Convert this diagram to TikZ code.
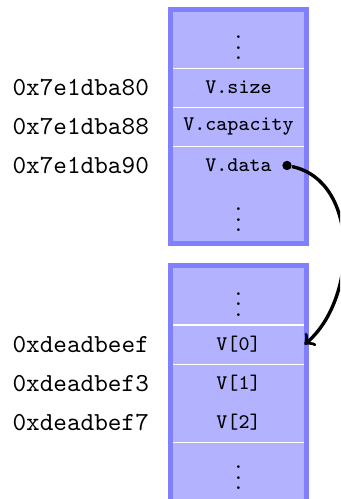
\documentclass[tikz,border=0pt]{standalone}
\usepackage{tikz}
\usetikzlibrary{arrows,calc}
\usepackage{amssymb}
\usepackage{amsmath}

\tikzset{
  memblock/.style={draw=blue!50, fill=blue!30, line width=1.9pt},
  cell/.style={minimum width=50.4pt, minimum height=15pt, inner sep=0pt, font=\footnotesize\ttfamily},
  dotcell/.style={cell, minimum height=21.6pt, font=\normalsize},
  sep/.style={draw=white, line width=0.6pt},
  addr/.style={anchor=west, inner sep=0pt, font=\ttfamily},
}

\begin{document}
\begin{tikzpicture}[x=0.385pt, y=0.385pt]
\useasboundingbox (0,0) rectangle (340,-499);
\clip (0,0) rectangle (340,-499);

% the struct V
\draw[memblock] (170.5,-9.5) rectangle (306.5,-243.5);
\node[dotcell] (topdots) at (238.5,-40) {$\vdots$};
\node[cell] (vsize) at (238.5,-87.5) {V.size};
\node[cell] (vcap) at (238.5,-126.5) {V.capacity};
\node[cell] (vdata) at (238.5,-165.5) {V.data};
\node[dotcell] (botdots) at (238.5,-212) {$\vdots$};
\foreach \c in {topdots,vsize,vcap}
  \draw[sep] (\c.south west) -- (\c.south east);

% the heap array
\draw[memblock] (170.5,-265.5) rectangle (306.5,-530);
\node[dotcell] (heapdots) at (238.5,-296.5) {$\vdots$};
\node[cell] (v0) at (238.5,-344.5) {V[0]};
\node[cell] (v1) at (238.5,-383.5) {V[1]};
\node[cell] (v2) at (238.5,-422.5) {V[2]};
\node[dotcell] (taildots) at (238.5,-470) {$\vdots$};
\foreach \c in {heapdots,v0,v2}
  \draw[sep] (\c.south west) -- (\c.south east);

% addresses
\node[addr] (a80) at (12,-87.5) {0x7e1dba80};
\node[addr] (a88) at (12,-126.5) {0x7e1dba88};
\node[addr] (a90) at (12,-165.5) {0x7e1dba90};
\node[addr] (aef) at (12,-344.5) {0xdeadbeef};
\node[addr] (af3) at (12,-383.5) {0xdeadbef3};
\node[addr] (af7) at (12,-422.5) {0xdeadbef7};

% pointer
\node[circle, fill, inner sep=0pt, minimum size=3.6pt] (ptr) at (287,-165.5) {};
\draw[->, line width=1.3pt] (ptr) to[out=-12, in=40] (v0.east);
\end{tikzpicture}
\end{document}
